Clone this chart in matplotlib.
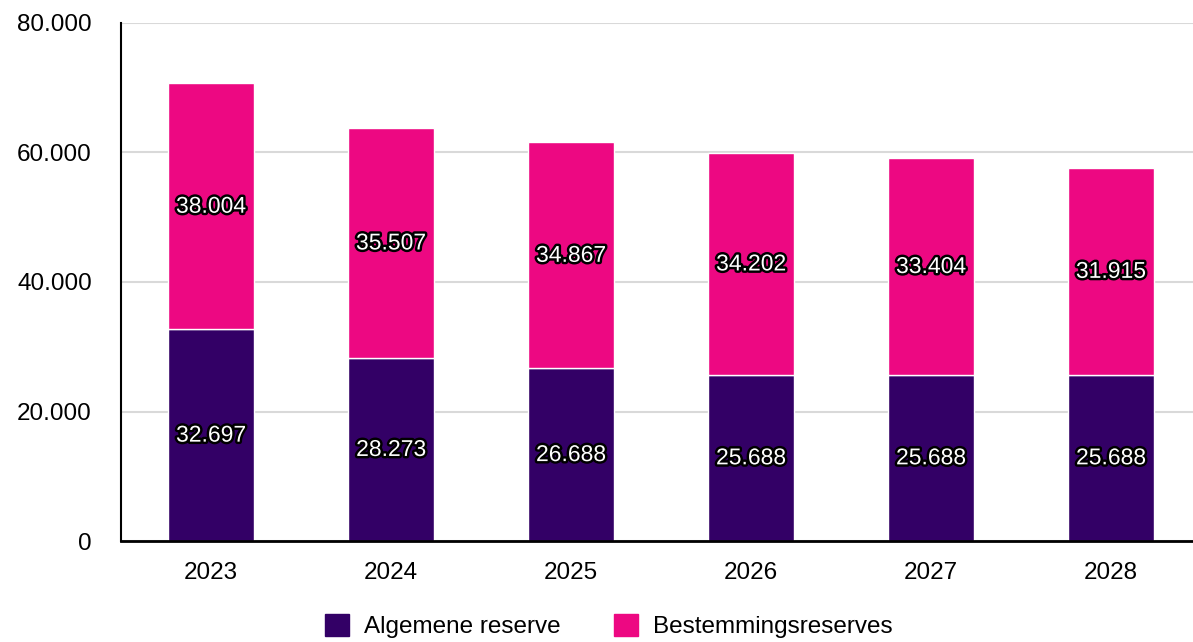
import matplotlib
matplotlib.use("Agg")
import matplotlib.pyplot as plt
import matplotlib.patheffects as pe
from matplotlib.ticker import FuncFormatter
from matplotlib.patches import Patch

plt.rcParams['font.family'] = ['Liberation Sans', 'DejaVu Sans']

# Data
jaren = ['2023', '2024', '2025', '2026', '2027', '2028']
algemene = [32697, 28273, 26688, 25688, 25688, 25688]
bestemming = [38004, 35507, 34867, 34202, 33404, 31915]

paars = '#330066'
roze = '#ED0882'

def fmt(v):
    return f'{int(round(v)):,}'.replace(',', '.')

fig = plt.figure(figsize=(11.93, 6.42), dpi=100)
ax = fig.add_axes([121 / 1193, 1 - 541 / 642, 1080 / 1193, 518 / 642])

x = list(range(len(jaren)))
ax.bar(x, algemene, width=0.48, color=paars, edgecolor='white', linewidth=1, zorder=3)
ax.bar(x, bestemming, width=0.48, bottom=algemene, color=roze, edgecolor='white', linewidth=1, zorder=3)

stroke = [pe.withStroke(linewidth=3.5, foreground='black')]
for i in x:
    ax.text(i, algemene[i] / 2, fmt(algemene[i]), ha='center', va='center',
            color='white', fontsize=16.5, path_effects=stroke, zorder=4)
    ax.text(i, algemene[i] + bestemming[i] / 2, fmt(bestemming[i]), ha='center', va='center',
            color='white', fontsize=16.5, path_effects=stroke, zorder=4)

ax.set_xlim(-0.5, 5.5)
ax.set_ylim(0, 80000)
ax.set_yticks([0, 20000, 40000, 60000, 80000])
ax.yaxis.set_major_formatter(FuncFormatter(lambda v, p: fmt(v)))
ax.set_xticks(x)
ax.set_xticklabels(jaren)
ax.tick_params(axis='y', length=0, pad=21, labelsize=17.5)
ax.tick_params(axis='x', length=0, pad=15, labelsize=17.5)
ax.grid(axis='y', color='#d9d9d9', linewidth=1.5, zorder=0)
ax.set_axisbelow(True)

for s in ['top', 'right']:
    ax.spines[s].set_visible(False)
ax.spines['left'].set_color('black')
ax.spines['left'].set_linewidth(1.5)
ax.spines['bottom'].set_color('black')
ax.spines['bottom'].set_linewidth(2)
ax.spines['bottom'].set_zorder(5)

handles = [Patch(color=paars, label='Algemene reserve'),
           Patch(color=roze, label='Bestemmingsreserves')]
fig.legend(handles=handles, loc='center', bbox_to_anchor=(0.51, 0.025), ncol=2,
           frameon=False, fontsize=17.5, handlelength=1.0, handleheight=1.0,
           columnspacing=2.2, handletextpad=0.6, borderpad=0)

fig.savefig('out.png', dpi=100)
